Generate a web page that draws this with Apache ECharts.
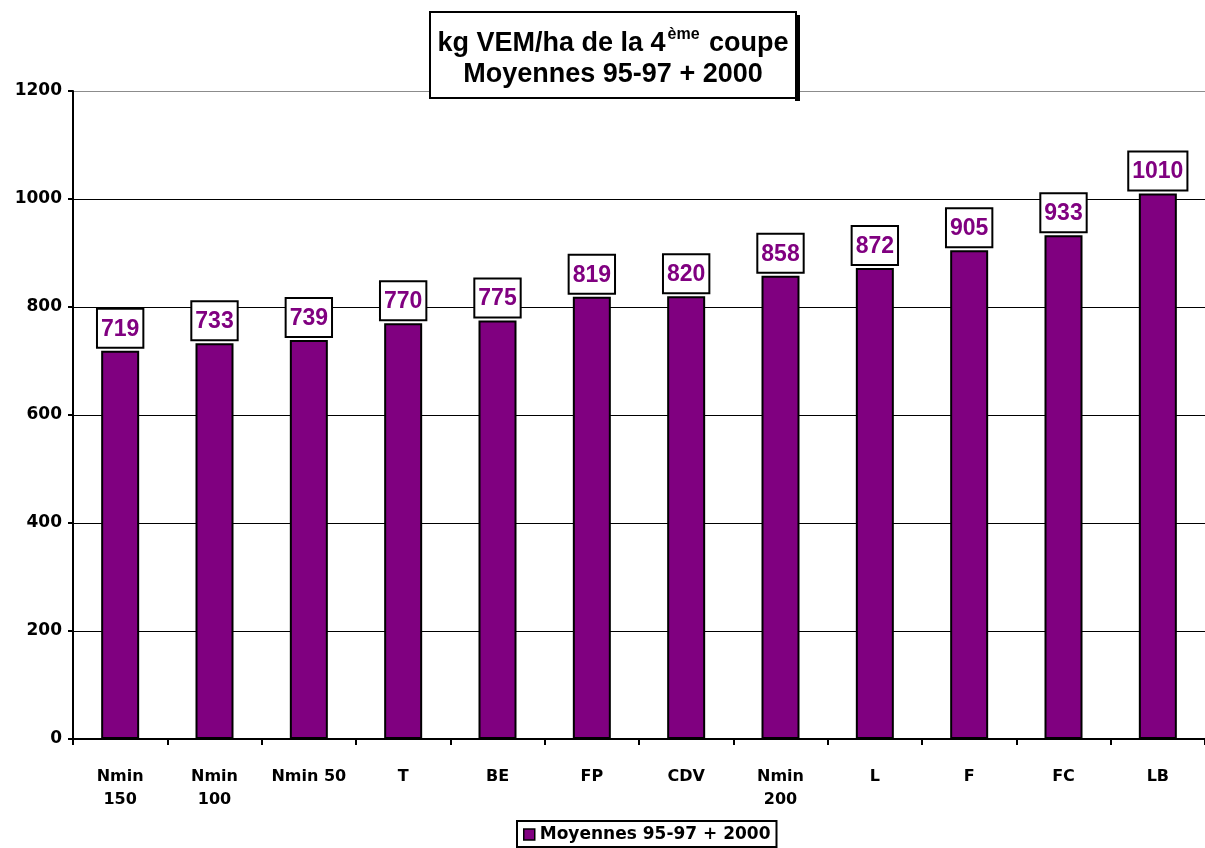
<!DOCTYPE html>
<html><head><meta charset="utf-8">
<script src="https://cdn.jsdelivr.net/npm/echarts@6/dist/echarts.min.js"></script>
<style>html,body{margin:0;padding:0;background:#fff}#c{width:1205px;height:848px}</style>
</head><body><div id="c"></div>
<script>
var categories = ['Nmin\n150','Nmin\n100','Nmin 50','T','BE','FP','CDV','Nmin\n200','L','F','FC','LB'];
var values = [719,733,739,770,775,819,820,858,872,905,933,1010];
var seriesName = 'Moyennes 95-97 + 2000';
var titleLine1 = ['kg VEM/ha de la 4','ème',' coupe'];
var titleLine2 = 'Moyennes 95-97 + 2000';

var chart = echarts.init(document.getElementById('c'));
var font = 'Liberation Sans, Arial, sans-serif';
var wide = 'DejaVu Sans, sans-serif';
chart.setOption({
  animation:false,
  backgroundColor:'#fff',
  graphic:[
    {type:'rect', z:100, shape:{x:795,y:15,width:5,height:86}, style:{fill:'#000'}},
    {type:'rect', z:101, shape:{x:430,y:12,width:366,height:86}, style:{fill:'#fff',stroke:'#000',lineWidth:2}},
    {type:'text', z:102, x:613, y:44, style:{
      text:'{a|'+titleLine1[0]+'}{s|'+titleLine1[1]+'}{a|'+titleLine1[2]+'}',
      align:'center', verticalAlign:'middle',
      rich:{
        a:{fontFamily:font,fontWeight:'bold',fontSize:27,fill:'#000',lineHeight:34},
        s:{fontFamily:font,fontWeight:'bold',fontSize:16,fill:'#000',verticalAlign:'top',lineHeight:34,padding:[0,2,16,2]}
      }}},
    {type:'text', z:102, x:613, y:75, style:{
      text:titleLine2, align:'center', verticalAlign:'middle',
      fontFamily:font, fontWeight:'bold', fontSize:27, fill:'#000'}}
  ],
  legend:{
    bottom:1, left:517,
    data:[{name:seriesName, icon:'rect'}],
    itemWidth:11, itemHeight:11, itemGap:5,
    padding:[5,6,4,6],
    borderColor:'#000', borderWidth:2, backgroundColor:'#fff',
    textStyle:{fontFamily:wide,fontWeight:'bold',fontSize:17,color:'#000'},
    itemStyle:{borderColor:'#000',borderWidth:1.5}
  },
  grid:{left:73,right:0,top:91,bottom:109,containLabel:false},
  xAxis:{
    type:'category', data:categories,
    axisLine:{lineStyle:{color:'#000',width:2}},
    axisTick:{show:true,length:6,lineStyle:{color:'#000',width:2}},
    axisLabel:{fontFamily:wide,fontWeight:'bold',fontSize:16,color:'#000',margin:26,lineHeight:23,interval:0}
  },
  yAxis:{
    type:'value', min:0, max:1200, interval:200,
    axisLine:{show:true,lineStyle:{color:'#000',width:2}},
    axisTick:{show:true,length:5,lineStyle:{color:'#000',width:2}},
    axisLabel:{fontFamily:wide,fontWeight:'bold',fontSize:17,color:'#000',margin:11,formatter:function(v){return String(v);}},
    splitLine:{show:true,lineStyle:{color:['#000','#000','#000','#000','#000','#000','#8c8c8c'],width:1}}
  },
  series:[{
    name:seriesName, type:'bar', data:values, barWidth:38,
    itemStyle:{color:'#800080',borderColor:'#000',borderWidth:2},
    label:{
      show:true, position:'top', distance:4,
      fontFamily:font, fontWeight:'bold', fontSize:23, color:'#800080',
      backgroundColor:'#fff', borderColor:'#000', borderWidth:2,
      padding:[8,3,6,3]
    }
  }]
});
</script></body></html>
